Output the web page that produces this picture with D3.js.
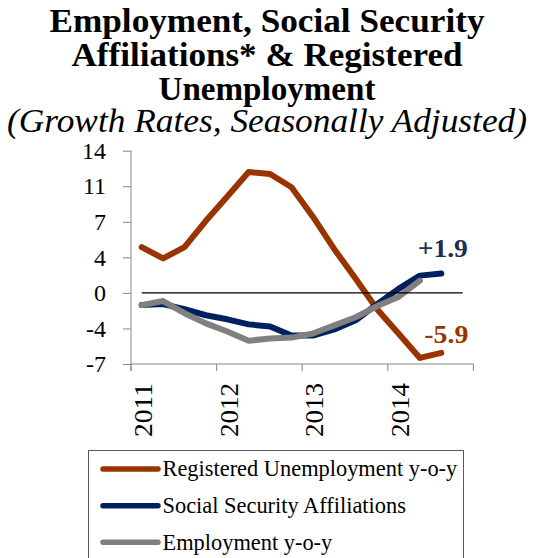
<!DOCTYPE html>
<html>
<head>
<meta charset="utf-8">
<script src="https://cdn.jsdelivr.net/npm/d3@7"></script>
<style>
  body { margin: 0; background: #fff; }
  #chart text { font-family: "Liberation Serif", "DejaVu Serif", serif; }
</style>
</head>
<body>
<div id="chart"></div>
<script>
// quarterly categories 2011Q1 .. 2014Q4
const quarters = ["2011Q1","2011Q2","2011Q3","2011Q4","2012Q1","2012Q2","2012Q3","2012Q4",
    "2013Q1","2013Q2","2013Q3","2013Q4","2014Q1","2014Q2","2014Q3","2014Q4"];
const yearLabels = ["2011", "2012", "2013", "2014"];

// growth rates, % y-o-y
const unemployment = [4.5, 3.4, 4.5, 7.1, 9.5, 11.9, 11.7, 10.4, 7.5, 4.3, 1.4, -1.6, -4.0, -6.4, -5.9];
const affiliations = [-1.2, -1.1, -1.6, -2.2, -2.6, -3.1, -3.3, -4.2, -4.2, -3.6, -2.7, -1.1, 0.4, 1.7, 1.9];
const employment = [-1.2, -0.8, -2.0, -3.0, -3.8, -4.7, -4.5, -4.4, -4.0, -3.2, -2.4, -1.3, -0.4, 1.2];
const zeroLine = quarters.map(() => 0);

const yTicks = [-7, -3.5, 0, 3.5, 7, 10.5, 14];
const yTickLabels = ["-7", "-4", "0", "4", "7", "11", "14"];

const seriesNames = ["Registered Unemployment y-o-y", "Social Security Affiliations", "Employment y-o-y"];
const seriesColors = ["#993300", "#002060", "#808080"];

const width = 534, height = 558;

let svg = d3.select("#chart")
    .append("svg")
    .attr("width", width)
    .attr("height", height);

// title
const titleLines = [
    {t: "Employment, Social Security", y: 32, w: 435, bold: true},
    {t: "Affiliations* & Registered", y: 66, w: 391, bold: true},
    {t: "Unemployment", y: 99.5, w: 217, bold: true},
    {t: "(Growth Rates, Seasonally Adjusted)", y: 132, w: 520, bold: false}
];
svg.selectAll("text.title")
    .data(titleLines)
    .enter()
    .append("text")
    .attr("class", "title")
    .attr("x", width / 2)
    .attr("y", d => d.y)
    .attr("text-anchor", "middle")
    .attr("font-size", 33)
    .attr("font-weight", d => d.bold ? "bold" : "normal")
    .attr("font-style", d => d.bold ? "normal" : "italic")
    .attr("textLength", d => d.w)
    .attr("lengthAdjust", "spacingAndGlyphs")
    .text(d => d.t);

// scales
let x = d3.scaleBand()
    .domain(quarters)
    .range([131, 473.4])
    .paddingInner(0)
    .paddingOuter(0);

let y = d3.scaleLinear()
    .domain([-7, 14])
    .range([364, 150.7]);

const cx = i => x(quarters[i]) + x.bandwidth() / 2;

// y axis
let yAxis = svg.append("g")
    .attr("transform", "translate(131,0)")
    .call(d3.axisLeft(y)
        .tickValues(yTicks)
        .tickSize(8)
        .tickPadding(17)
        .tickFormat((d, i) => yTickLabels[i]));
yAxis.select(".domain").attr("stroke", "#868686").attr("d", "M0," + y(14) + "V" + 371);
yAxis.selectAll(".tick line").attr("stroke", "#868686");
yAxis.selectAll(".tick text")
    .attr("fill", "#000")
    .attr("font-size", 24)
    .attr("font-family", "Liberation Serif, serif");

// x axis: tick every 4 quarters at category boundaries
let xBounds = [0, 4, 8, 12, 16].map(i => i < 16 ? x(quarters[i]) : x.range()[1]);
let xAxis = svg.append("g");
xAxis.append("line")
    .attr("x1", 131).attr("x2", 473.4)
    .attr("y1", y(-7)).attr("y2", y(-7))
    .attr("stroke", "#868686");
xAxis.selectAll("line.tick")
    .data(xBounds)
    .enter()
    .append("line")
    .attr("class", "tick")
    .attr("x1", d => d).attr("x2", d => d)
    .attr("y1", y(-7)).attr("y2", y(-7) + 7)
    .attr("stroke", "#868686");
xAxis.selectAll("text")
    .data(yearLabels)
    .enter()
    .append("text")
    .attr("transform", (d, i) => "translate(" + (cx(i * 4) + 1.5) + "," + 383 + ") rotate(-90)")
    .attr("text-anchor", "end")
    .attr("dy", "0.35em")
    .attr("font-size", 25)
    .attr("textLength", 54)
    .attr("lengthAdjust", "spacingAndGlyphs")
    .text(d => d);

// series lines
let line = d3.line()
    .x((d, i) => cx(i))
    .y(d => y(d));

let seriesData = [unemployment, affiliations, employment];
svg.selectAll("path.series")
    .data(seriesData)
    .enter()
    .append("path")
    .attr("class", "series")
    .attr("fill", "none")
    .attr("stroke", (d, i) => seriesColors[i])
    .attr("stroke-width", 6)
    .attr("stroke-linejoin", "round")
    .attr("stroke-linecap", "round")
    .attr("d", line);

// zero line
svg.append("path")
    .attr("fill", "none")
    .attr("stroke", "#000")
    .attr("stroke-width", 1.3)
    .attr("d", line(zeroLine));

// end labels
let lastA = affiliations.length - 1;
svg.append("text")
    .attr("x", cx(lastA) + 1.5)
    .attr("y", y(affiliations[lastA]) - 17)
    .attr("text-anchor", "middle")
    .attr("font-size", 25)
    .attr("font-weight", "bold")
    .attr("fill", "#1c2f52")
    .attr("textLength", 50)
    .attr("lengthAdjust", "spacingAndGlyphs")
    .text("+" + affiliations[lastA].toFixed(1));

let lastU = unemployment.length - 1;
svg.append("text")
    .attr("x", cx(lastU) + 5)
    .attr("y", y(unemployment[lastU]) - 10)
    .attr("text-anchor", "middle")
    .attr("font-size", 25)
    .attr("font-weight", "bold")
    .attr("fill", "#993300")
    .attr("textLength", 44)
    .attr("lengthAdjust", "spacingAndGlyphs")
    .text(unemployment[lastU].toFixed(1));

// legend
let legend = svg.append("g");
legend.append("rect")
    .attr("x", 88.5).attr("y", 450.5)
    .attr("width", 375).attr("height", 140)
    .attr("fill", "#fff")
    .attr("stroke", "#595959");

let legendRows = [469, 505.7, 542.3];
let items = legend.selectAll("g.item")
    .data(seriesNames)
    .enter()
    .append("g")
    .attr("class", "item")
    .attr("transform", (d, i) => "translate(0," + legendRows[i] + ")");
items.append("line")
    .attr("x1", 103).attr("x2", 158)
    .attr("stroke", (d, i) => seriesColors[i])
    .attr("stroke-width", 5.5)
    .attr("stroke-linecap", "round");
items.append("text")
    .attr("x", 162.5)
    .attr("dy", "0.33em")
    .attr("font-size", 22.4)
    .text(d => d);
</script>
</body>
</html>
